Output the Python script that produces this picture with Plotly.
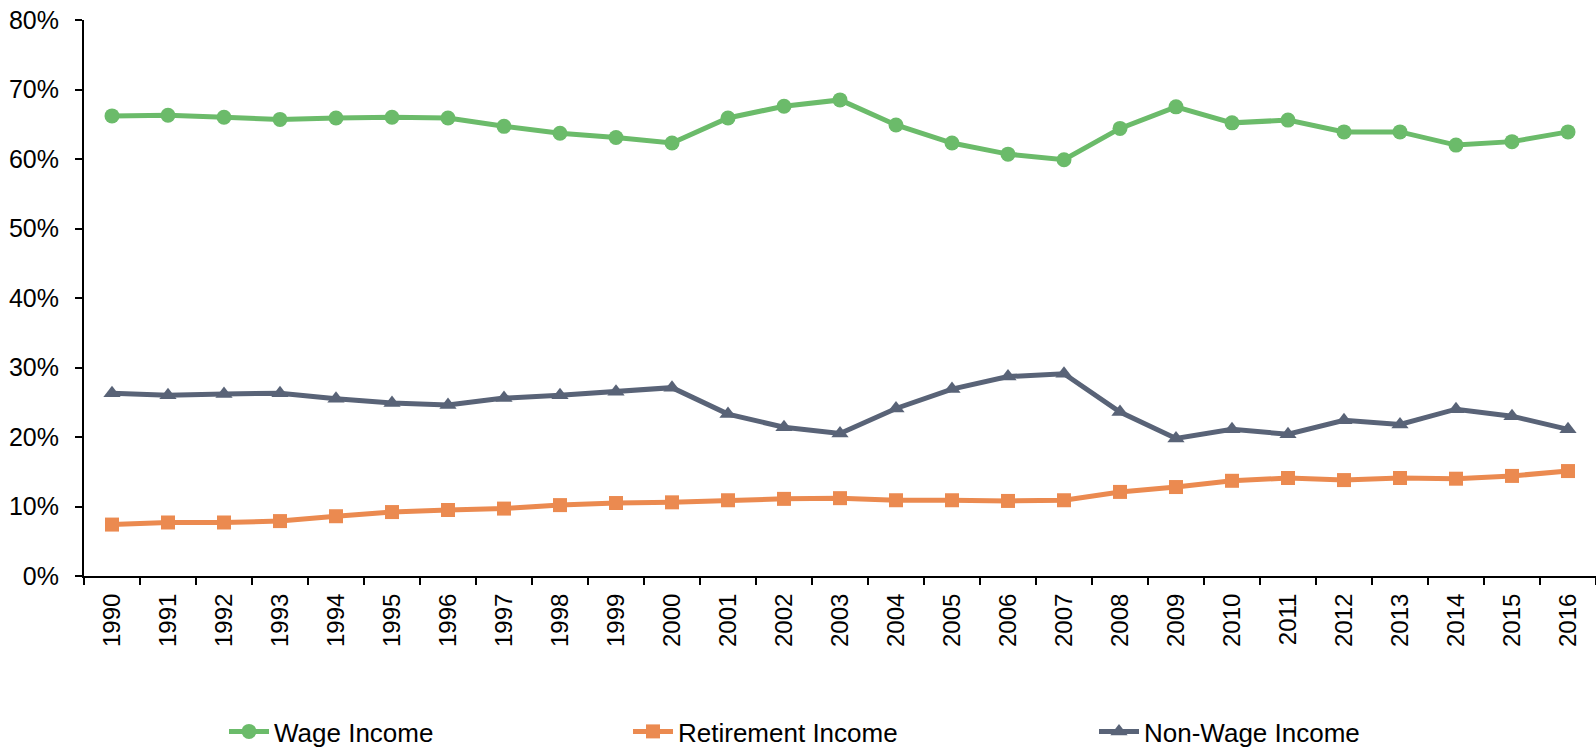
import plotly.graph_objects as go

years = [str(y) for y in range(1990, 2017)]
wage = [66.2, 66.3, 66.0, 65.7, 65.9, 66.0, 65.9, 64.7, 63.7, 63.1, 62.3, 65.9, 67.6, 68.5,
        64.9, 62.3, 60.7, 59.9, 64.4, 67.5, 65.2, 65.6, 63.9, 63.9, 62.0, 62.5, 63.9]
retirement = [7.4, 7.7, 7.7, 7.9, 8.6, 9.2, 9.5, 9.7, 10.2, 10.5, 10.6, 10.9, 11.1, 11.2,
              10.9, 10.9, 10.8, 10.9, 12.1, 12.8, 13.7, 14.1, 13.8, 14.1, 14.0, 14.4, 15.1]
nonwage = [26.3, 26.0, 26.2, 26.3, 25.5, 24.9, 24.6, 25.6, 26.0, 26.5, 27.1, 23.3, 21.4, 20.5,
           24.1, 26.9, 28.7, 29.1, 23.6, 19.8, 21.1, 20.4, 22.4, 21.8, 24.0, 23.0, 21.1]

green = "#6BBB6A"
orange = "#EB8A50"
slate = "#596377"

fig = go.Figure()
fig.add_trace(go.Scatter(x=years, y=[v / 100 for v in wage], name="Wage Income", mode="lines+markers",
                         line=dict(color=green, width=5), marker=dict(symbol="circle", size=15, color=green),
                         legend="legend"))
fig.add_trace(go.Scatter(x=years, y=[v / 100 for v in retirement], name="Retirement Income", mode="lines+markers",
                         line=dict(color=orange, width=5), marker=dict(symbol="square", size=14, color=orange),
                         legend="legend2"))
fig.add_trace(go.Scatter(x=years, y=[v / 100 for v in nonwage], name="Non-Wage Income", mode="lines+markers",
                         line=dict(color=slate, width=5), marker=dict(symbol="triangle-up", size=15, color=slate),
                         legend="legend3"))

family = "Liberation Sans, Arial, sans-serif"
font = dict(family=family, size=24, color="#000000")
legfont = dict(family=family, size=26, color="#000000")
leg_common = dict(orientation="h", yanchor="middle", y=-0.28, xanchor="left", font=legfont,
                  bgcolor="rgba(0,0,0,0)", itemwidth=40)

fig.update_layout(
    width=1596, height=755,
    margin=dict(l=84, r=0, t=20, b=176),
    paper_bgcolor="white", plot_bgcolor="white",
    font=font,
    showlegend=True,
    legend=dict(x=(224 - 84) / 1512, **leg_common),
    legend2=dict(x=(628 - 84) / 1512, **leg_common),
    legend3=dict(x=(1094 - 84) / 1512, **leg_common),
    xaxis=dict(type="category", range=[-0.5, 26.5], showline=True, linecolor="black", linewidth=2,
               ticks="outside", tickson="boundaries", ticklen=7, tickwidth=2, tickcolor="black",
               tickangle=-90, showgrid=False, zeroline=False, ticklabelstandoff=6,
               tickfont=dict(family=family, size=24, color="#000000")),
    yaxis=dict(range=[0, 0.8], tickvals=[0, 0.1, 0.2, 0.3, 0.4, 0.5, 0.6, 0.7, 0.8], tickformat=".0%",
               showline=True, linecolor="black", linewidth=2, ticks="outside", ticklen=7, tickwidth=2,
               tickcolor="black", showgrid=False, zeroline=False, ticklabelstandoff=11,
               tickfont=dict(family=family, size=25, color="#000000")),
)

fig.write_html("out.html")
